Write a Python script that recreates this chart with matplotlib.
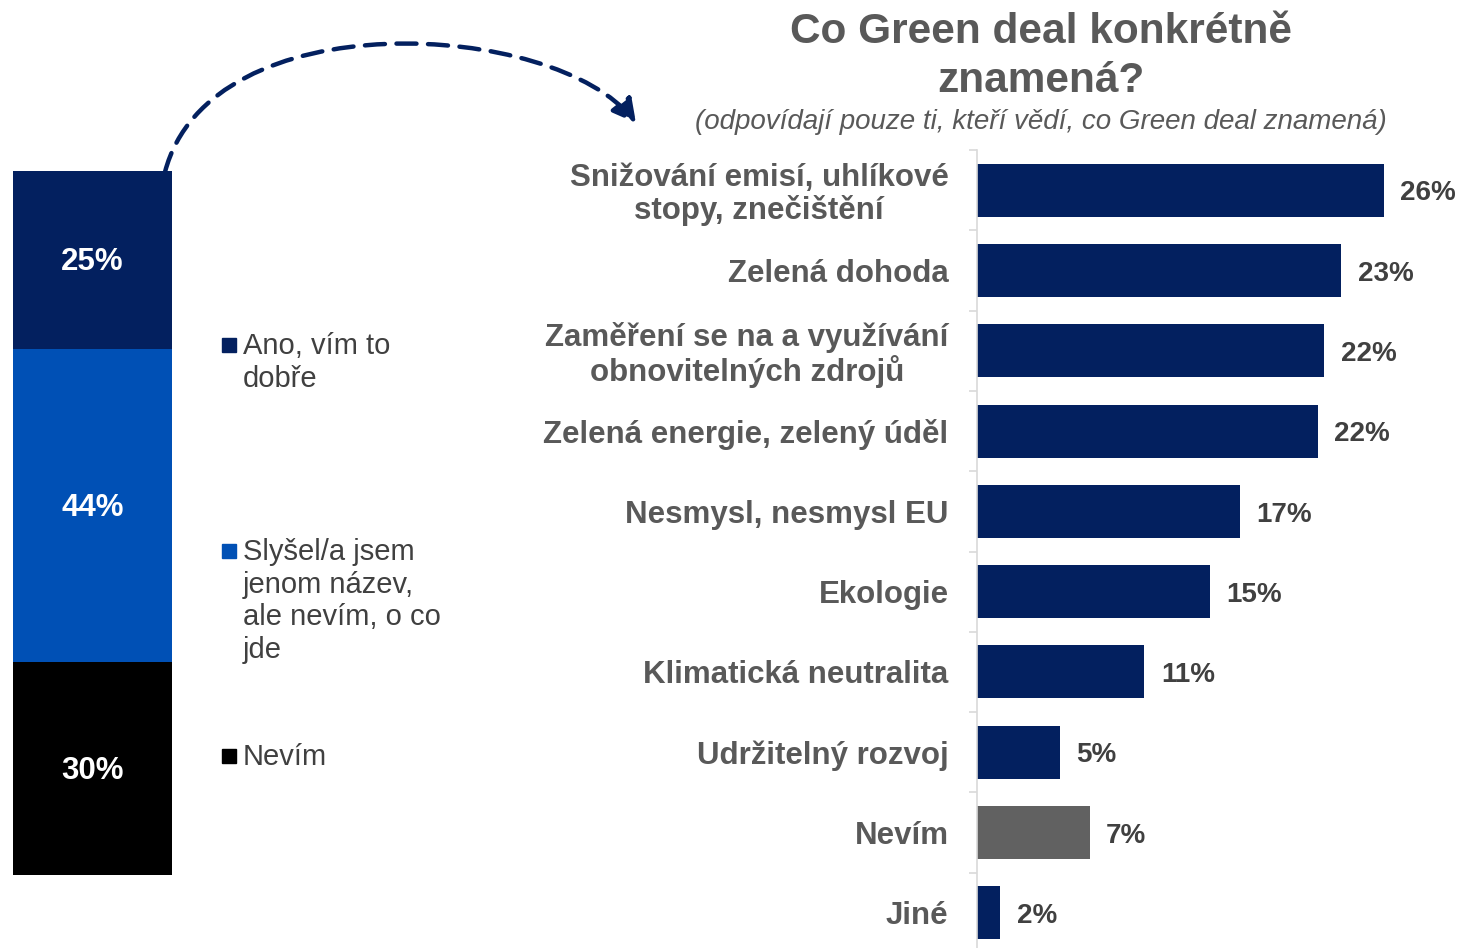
import matplotlib
matplotlib.use("Agg")
import matplotlib.pyplot as plt
from matplotlib.patches import FancyArrowPatch, Rectangle
from matplotlib.path import Path

plt.rcParams['font.family'] = ['Liberation Sans', 'DejaVu Sans']

# ---- data ----
categories = [
    "Snižování emisí, uhlíkové\nstopy, znečištění",
    "Zelená dohoda",
    "Zaměření se na a využívání\nobnovitelných zdrojů",
    "Zelená energie, zelený úděl",
    "Nesmysl, nesmysl EU",
    "Ekologie",
    "Klimatická neutralita",
    "Udržitelný rozvoj",
    "Nevím",
    "Jiné",
]
values = [26.0, 23.3, 22.2, 21.8, 16.8, 14.9, 10.7, 5.3, 7.2, 1.5]
bar_colors = ["#03205F"] * 8 + ["#616161", "#03205F"]

stack_labels = ["Ano, vím to\ndobře", "Slyšel/a jsem\njenom název,\nale nevím, o co\njde", "Nevím"]
stack_values = [25, 44, 30]
stack_colors = ["#03205F", "#0050B5", "#000000"]

title = "Co Green deal konkrétně\nznamená?"
subtitle = "(odpovídají pouze ti, kteří vědí, co Green deal znamená)"

W, H = 1462, 948
fig = plt.figure(figsize=(W / 100, H / 100), dpi=100)

def fx(px):
    return px / W

def fy(py):
    return 1 - py / H

# ---- left stacked bar ----
axL = fig.add_axes([fx(13), fy(875), fx(172 - 13), (875 - 171) / H])
total = sum(stack_values)
bottom = total
for v, c in zip(stack_values, stack_colors):
    axL.bar(0, v, bottom=bottom - v, width=1.0, color=c, edgecolor='none')
    axL.text(0, bottom - v / 2 - 0.35, f"{v}%", ha='center', va='center', color='white',
             fontsize=22.5, fontweight='bold')
    bottom -= v
axL.set_xlim(-0.5, 0.5)
axL.set_ylim(0, total)
axL.axis('off')

# legend
leg_y = [345, 551, 756]
for lab, c, y in zip(stack_labels, stack_colors, leg_y):
    fig.patches.append(Rectangle((fx(222), fy(y + 7)), fx(14), 14 / H, color=c,
                                 transform=fig.transFigure, figure=fig))
    fig.text(fx(243), fy(y - 13), lab, ha='left', va='top', fontsize=21,
             color='#404040', linespacing=1.21)

# ---- right bar chart ----
n = len(categories)
top_px, step = 150, 80.3
bot_px = top_px + n * step
axR = fig.add_axes([fx(977), fy(bot_px), fx(1440 - 977), (bot_px - top_px) / H])
ypos = list(range(n))
axR.barh(ypos, values, height=0.66, color=bar_colors, edgecolor='none')
axR.set_ylim(n - 0.5, -0.5)
axR.set_xlim(0, 29.6)
for y, v in zip(ypos, values):
    axR.text(v + 1.05, y + 0.04, f"{v:.0f}%", ha='left', va='center', fontsize=20,
             fontweight='bold', color='#404040')
axR.set_yticks([y + 0.5 for y in ypos[:-1]] + [-0.5], minor=False)
axR.set_yticklabels([])
axR.tick_params(axis='y', length=6, color='#D9D9D9', width=1.2, direction='out')
axR.set_yticks(ypos, minor=True)
labs = axR.set_yticklabels(categories, minor=True, fontsize=22.5, fontweight='bold',
                           color='#595959', linespacing=1.08)
for t in labs:
    t.set_multialignment('center')
axR.tick_params(axis='y', which='minor', length=0, pad=20.5)
axR.set_xticks([])
for s in ['top', 'right', 'bottom']:
    axR.spines[s].set_visible(False)
axR.spines['left'].set_color('#D9D9D9')
axR.spines['left'].set_linewidth(1.2)

# titles
fig.text(fx(1041), fy(12), title, ha='center', va='top', fontsize=30.5,
         fontweight='bold', color='#595959', linespacing=1.3)
fig.text(fx(1041), fy(122), subtitle, ha='center', va='center', fontsize=20,
         style='italic', color='#595959')

# dashed arrow (cubic curve in figure pixels)
pts = [(165, 172), (210, 0), (555, 20), (636, 123)]
path = Path([(fx(x), fy(y)) for x, y in pts],
            [Path.MOVETO, Path.CURVE4, Path.CURVE4, Path.CURVE4])
arrow = FancyArrowPatch(path=path, transform=fig.transFigure,
                        arrowstyle="-|>,head_length=14,head_width=7.5",
                        linestyle=(0, (4.5, 2.6)), linewidth=3.2,
                        color='#03205F', shrinkA=0, shrinkB=0)
fig.patches.append(arrow)

fig.savefig("out.png", dpi=100)
